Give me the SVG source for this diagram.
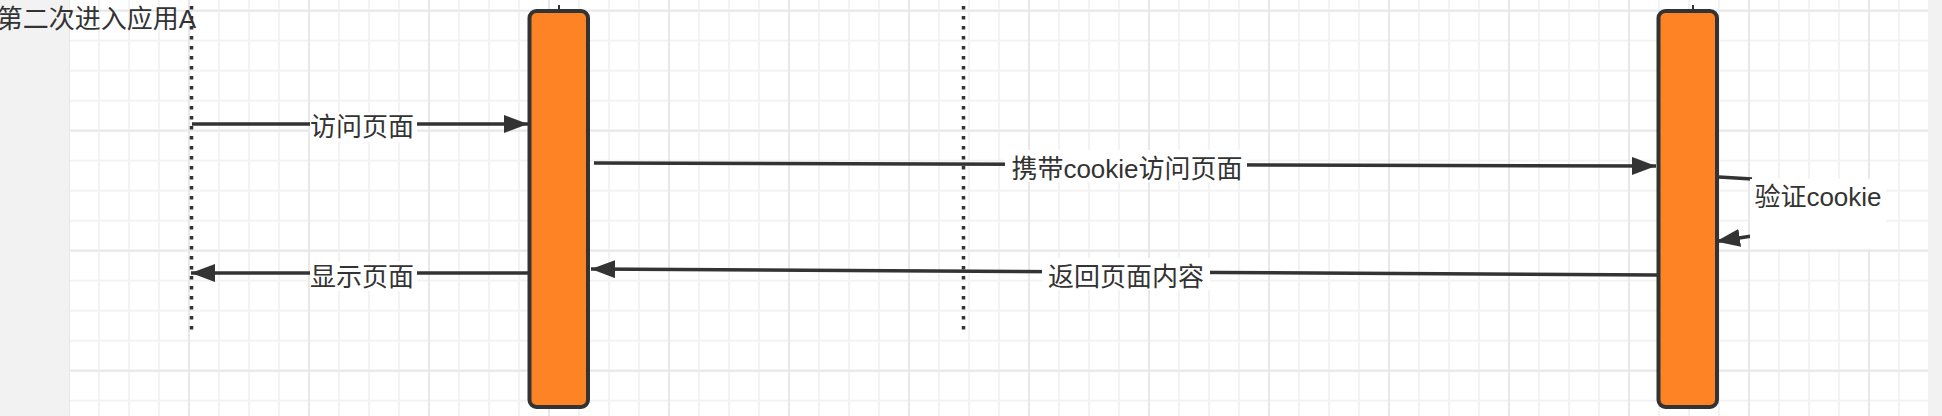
<svg xmlns="http://www.w3.org/2000/svg" width="1942" height="416" viewBox="0 0 1942 416">
  <style>
    .txt { font-family: "Liberation Sans", "Noto Sans CJK SC", sans-serif; font-size: 26px; fill: #333333; }
    .lbl { text-anchor: middle; }
    .msg { fill: none; stroke: #333333; stroke-width: 3.5; }
    .life { fill: none; stroke: #333333; stroke-width: 3.5; stroke-dasharray: 3.5 6.5; }
    .act { fill: #fd8324; stroke: #333333; stroke-width: 4; }
    .bg { fill: #ffffff; }
  </style>
  <defs>
    <pattern id="minor" patternUnits="userSpaceOnUse" x="68" y="9.7" width="30" height="30">
      <path d="M0,1 H30 M1,0 V30" stroke="#f3f3f3" stroke-width="2" fill="none"/>
    </pattern>
    <pattern id="major" patternUnits="userSpaceOnUse" x="68" y="9.7" width="120" height="120">
      <path d="M0,1 H120 M1,0 V120" stroke="#e8e8e8" stroke-width="2" fill="none"/>
    </pattern>
    <marker id="arrow" viewBox="0 0 24 18" refX="24" refY="9" markerWidth="24" markerHeight="18" markerUnits="userSpaceOnUse" orient="auto">
      <path d="M0,0 L24,9 L0,18 Z" fill="#333333"/>
    </marker>
  </defs>

  <!-- background -->
  <rect x="0" y="0" width="1942" height="416" fill="#f2f2f2"/>
  <rect x="69" y="0" width="1859" height="416" fill="#ffffff"/>
  <rect x="69" y="0" width="1859" height="416" fill="url(#minor)"/>
  <rect x="69" y="0" width="1859" height="416" fill="url(#major)"/>

  <!-- title -->
  <g id="title">
    <text class="txt" x="196" y="28" text-anchor="end">第二次进入应用A</text>
  </g>

  <!-- lifelines -->
  <g id="lifeline-user">
    <line class="life" x1="191.5" y1="6" x2="191.5" y2="331"/>
  </g>
  <g id="lifeline-mid">
    <line class="life" x1="963.5" y1="6" x2="963.5" y2="331"/>
  </g>

  <!-- activation boxes -->
  <g id="app-a">
    <line x1="559" y1="5" x2="559" y2="10" stroke="#333333" stroke-width="2"/>
    <rect class="act" x="529.5" y="11" width="58.5" height="396" rx="7" ry="7"/>
  </g>
  <g id="server">
    <line x1="1693" y1="5" x2="1693" y2="10" stroke="#333333" stroke-width="2"/>
    <rect class="act" x="1658.5" y="11" width="58.5" height="396" rx="7" ry="7"/>
  </g>

  <!-- connectors -->
  <g id="connectors">
    <path class="msg" d="M192,124 H528" marker-end="url(#arrow)"/>
    <path class="msg" d="M594,163 L1656,166" marker-end="url(#arrow)"/>
    <path class="msg" d="M1719,177 L1752,179"/>
    <path class="msg" d="M1752,236 L1716,241.5" marker-end="url(#arrow)"/>
    <path class="msg" d="M1657,275 L591,269" marker-end="url(#arrow)"/>
    <path class="msg" d="M528,273 L191,273" marker-end="url(#arrow)"/>

    <rect class="bg" x="310" y="112" width="107" height="30"/>
    <text class="txt lbl" x="362" y="136">访问页面</text>

    <rect class="bg" x="1005" y="150" width="242" height="32"/>
    <text class="txt lbl" x="1127" y="178">携带cookie访问页面</text>

    <rect class="bg" x="1750" y="179" width="136" height="70"/>
    <text class="txt lbl" x="1818" y="206">验证cookie</text>

    <rect class="bg" x="1042" y="258" width="168" height="32"/>
    <text class="txt lbl" x="1126" y="286">返回页面内容</text>

    <rect class="bg" x="310" y="261" width="107" height="30"/>
    <text class="txt lbl" x="362" y="286">显示页面</text>
  </g>
</svg>
